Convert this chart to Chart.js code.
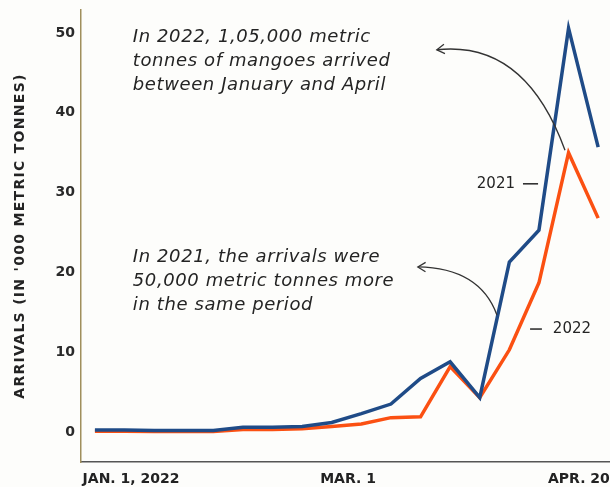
<!DOCTYPE html>
<html>
<head>
<meta charset="utf-8">
<script src="https://cdn.jsdelivr.net/npm/chart.js@4.4.1/dist/chart.umd.min.js"></script>
<style>
  html, body { margin: 0; padding: 0; background: #fdfdfb; }
  #wrap { width: 610px; height: 487px; }
</style>
</head>
<body>
<div id="wrap"><canvas id="chart"></canvas></div>
<script>
// weekly mango arrivals, in '000 metric tonnes
let weekNo = [0, 1, 2, 3, 4, 5, 6, 7, 8, 9, 10, 11, 12, 13, 14, 15, 16, 17]
let arrivals2021 = [0.25, 0.25, 0.2, 0.2, 0.2, 0.6, 0.6, 0.7, 1.2, 2.3, 3.5, 6.7, 8.8, 4.3, 21.3, 25.3, 50.6, 35.7]
let arrivals2022 = [0.1, 0.1, 0.05, 0.05, 0.05, 0.3, 0.3, 0.4, 0.7, 1.0, 1.8, 1.9, 8.2, 4.3, 10.3, 18.7, 35.0, 26.8]

let xTickLabels = ["JAN. 1, 2022", "MAR. 1", "APR. 20"]
let xTickAt = [1.22, 8.55, 16.35]

let note2022 = ["In 2022, 1,05,000 metric", "tonnes of mangoes arrived", "between January and April"]
let note2021 = ["In 2021, the arrivals were", "50,000 metric tonnes more", "in the same period"]
let yTitle = "ARRIVALS (IN '000 METRIC TONNES)"

const inkColor = '#242424'


function curvedArrow(ctx, p0, c, p2) {
    ctx.beginPath()
    ctx.moveTo(p0.x, p0.y)
    ctx.quadraticCurveTo(c.x, c.y, p2.x, p2.y)
    ctx.stroke()

    // open chevron at the end of the curve
    let ang = Math.atan2(p2.y - c.y, p2.x - c.x)
    let s = 9
    ctx.beginPath()
    ctx.moveTo(p2.x - s * Math.cos(ang - 0.55), p2.y - s * Math.sin(ang - 0.55))
    ctx.lineTo(p2.x, p2.y)
    ctx.lineTo(p2.x - s * Math.cos(ang + 0.55), p2.y - s * Math.sin(ang + 0.55))
    ctx.stroke()
}


// notes, arrows, series labels and the rotated y title
const notesPlugin = {
    id: 'notes',
    afterDatasetsDraw(chart) {
        let ctx = chart.ctx
        let sx = chart.scales.x
        let sy = chart.scales.y
        let pt = (vx, vy) => ({ x: sx.getPixelForValue(vx), y: sy.getPixelForValue(vy) })

        ctx.save()
        ctx.fillStyle = inkColor
        ctx.strokeStyle = '#333'
        ctx.textBaseline = 'middle'

        ctx.font = 'italic 18px "DejaVu Sans"'
        ctx.letterSpacing = '0.6px'
        let a = pt(1.28, 49.5)
        note2022.forEach((t, i) => ctx.fillText(t, a.x, a.y + i * 24))
        let b = pt(1.28, 21.9)
        note2021.forEach((t, i) => ctx.fillText(t, b.x, b.y + i * 24))

        ctx.lineWidth = 1.3
        curvedArrow(ctx, pt(15.88, 35.3), pt(14.53, 49.1), pt(11.55, 47.9))
        curvedArrow(ctx, pt(13.58, 14.66), pt(13.0, 20.55), pt(10.91, 20.68))

        // series labels with short leader dashes
        ctx.letterSpacing = '0px'
        ctx.font = '15px "DejaVu Sans"'
        ctx.lineWidth = 1.6
        let l1 = pt(14.19, 31.1)
        ctx.textAlign = 'right'
        ctx.fillText('2021', l1.x, l1.y)
        ctx.beginPath()
        ctx.moveTo(pt(14.46, 0).x, l1.y)
        ctx.lineTo(pt(14.97, 0).x, l1.y)
        ctx.stroke()

        let l2 = pt(15.47, 12.9)
        ctx.textAlign = 'left'
        ctx.fillText('2022', l2.x, l2.y)
        ctx.beginPath()
        ctx.moveTo(pt(14.7, 0).x, l2.y)
        ctx.lineTo(pt(15.1, 0).x, l2.y)
        ctx.stroke()

        // y axis title
        let area = chart.chartArea
        ctx.translate(20, (area.top + area.bottom) / 2)
        ctx.rotate(-Math.PI / 2)
        ctx.textAlign = 'center'
        ctx.font = 'bold 14px "DejaVu Sans"'
        ctx.letterSpacing = '1.3px'
        ctx.fillText(yTitle, 0, 0)
        ctx.restore()
    }
}


const bgPlugin = {
    id: 'bg',
    beforeDraw(chart) {
        let ctx = chart.ctx
        ctx.save()
        ctx.fillStyle = '#fdfdfb'
        ctx.fillRect(0, 0, chart.width, chart.height)
        ctx.restore()
    }
}


let ctx = document.getElementById('chart')

let chart = new Chart(ctx, {
    type: 'line',
    data: {
        labels: weekNo,
        datasets: [{
            label: '2021',
            data: weekNo.map((w, i) => ({ x: w, y: arrivals2021[i] })),
            borderColor: '#1f4b87',
            borderWidth: 3.5,
            borderJoinStyle: 'miter',
            pointRadius: 0,
            tension: 0
        },
        {
            label: '2022',
            data: weekNo.map((w, i) => ({ x: w, y: arrivals2022[i] })),
            borderColor: '#fb5012',
            borderWidth: 3.5,
            borderJoinStyle: 'miter',
            pointRadius: 0,
            tension: 0
        }]
    },
    options: {
        responsive: true,
        maintainAspectRatio: false,
        animation: false,
        layout: { padding: { top: 10, right: 0, bottom: 0, left: 0 } },
        scales: {
            x: {
                type: 'linear',
                min: -0.47,
                max: 17.4,
                grid: { display: false, drawTicks: false },
                border: { color: '#555', width: 1.5 },
                afterBuildTicks: function (axis) {
                    axis.ticks = xTickAt.map(v => ({ value: v }))
                },
                ticks: {
                    autoSkip: false,
                    maxRotation: 0,
                    padding: 9,
                    color: '#222',
                    font: { family: 'DejaVu Sans', size: 14, weight: 'bold' },
                    callback: function (value, index) { return xTickLabels[index] }
                },
                afterFit: function (axis) {
                    axis.height = 25
                    axis.paddingLeft = 0
                    axis.paddingRight = 0
                }
            },
            y: {
                min: -3.76,
                max: 52.88,
                grid: { display: false, drawTicks: false },
                border: { color: '#a08f5c', width: 1.5 },
                ticks: {
                    stepSize: 10,
                    includeBounds: false,
                    padding: 6,
                    color: '#2a2a2a',
                    font: { family: 'DejaVu Sans', size: 14, weight: 'bold' }
                },
                afterFit: function (axis) {
                    axis.width = 81
                    axis.paddingTop = 0
                    axis.paddingBottom = 0
                }
            }
        },
        plugins: {
            legend: { display: false },
            tooltip: { enabled: false }
        }
    },
    plugins: [bgPlugin, notesPlugin]
})
</script>
</body>
</html>
